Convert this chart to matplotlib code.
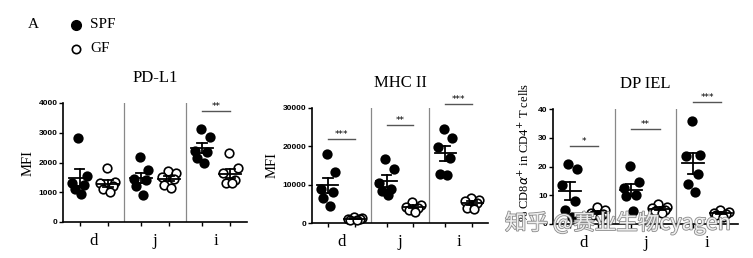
import matplotlib
matplotlib.use("Agg")
import matplotlib.pyplot as plt
import matplotlib.patheffects as pe
from matplotlib.lines import Line2D
import numpy as np

# --- Daten ---------------------------------------------------------------
GROUPS = ["d", "j", "i"]

PDL1_SPF = [[2820, 1550, 1300, 1250, 1100, 950],
            [2170, 1750, 1450, 1400, 1200, 900],
            [3120, 2850, 2400, 2350, 2150, 2000]]
PDL1_GF = [[1800, 1350, 1300, 1200, 1100, 1000],
           [1700, 1650, 1500, 1450, 1250, 1150],
           [2320, 1800, 1650, 1400, 1300, 1300]]
PDL1_SIG = [None, None, "**"]
PDL1_SIG_Y = [None, None, 3720]

MHC_SPF = [[17900, 13300, 9000, 8000, 6500, 4400],
           [16600, 14100, 10500, 9000, 8300, 7200],
           [24600, 22300, 19800, 17000, 12800, 12600]]
MHC_GF = [[1500, 1300, 1100, 1000, 900, 700],
          [5600, 4800, 4300, 4000, 3500, 3000],
          [6500, 6100, 5800, 5200, 3900, 3600]]
MHC_SIG = ["***", "**", "***"]
MHC_SIG_Y = [21900, 25480, 31100]

DP_SPF = [[21, 19.3, 13.5, 8, 5, 2.5],
          [20.2, 14.5, 12.5, 10, 9.8, 4.5],
          [36, 24, 23.5, 17.5, 14, 11.3]]
DP_GF = [[6, 5, 4, 3.5, 3, 2.5],
         [7, 6, 5.5, 5, 4.5, 4],
         [5, 4.3, 4, 3.5, 3, 2.5]]
DP_SIG = ["*", "**", "***"]
DP_SIG_Y = [27, 33, 42.3]

# --- Layout ---------------------------------------------------------------
W, H = 753, 258
JITTER = [-0.02, 0.12, -0.12, 0.08, -0.08, 0.03]
SERIF = "Liberation Serif"
SANS = "Liberation Sans"


def px_axes(fig, left, top, right, bottom):
    return fig.add_axes([left / W, 1 - bottom / H, (right - left) / W, (bottom - top) / H])


def panel(ax, spf, gf, sig, sig_y, ymax, yticks, title, ylabel):
    for g in range(3):
        for vals, off, filled in ((spf[g], 0.27, True), (gf[g], 0.73, False)):
            x = g + off + np.array(JITTER[:len(vals)])
            ax.plot(x, vals, "o", ms=6.2, mec="black", mew=1.2,
                    mfc="black" if filled else "white", ls="none", zorder=3, clip_on=False)
            m = np.mean(vals)
            sem = np.std(vals, ddof=1) / np.sqrt(len(vals))
            c = g + off
            ax.plot([c - 0.18, c + 0.18], [m, m], color="black", lw=1.3, zorder=4)
            ax.plot([c, c], [m - sem, m + sem], color="black", lw=1.3, zorder=4)
            for yy in (m - sem, m + sem):
                ax.plot([c - 0.08, c + 0.08], [yy, yy], color="black", lw=1.3, zorder=4)
        if sig[g]:
            ax.plot([g + 0.27, g + 0.73], [sig_y[g], sig_y[g]], color="#555555",
                    lw=1.0, clip_on=False)
            ax.text(g + 0.5, sig_y[g], sig[g], ha="center", va="bottom",
                    fontsize=6.5, clip_on=False)
    for b in (1, 2):
        ax.axvline(b, color="#888888", lw=0.9)
    ax.set_xlim(0, 3)
    ax.set_ylim(0, ymax)
    ax.set_yticks(yticks)
    ax.set_yticklabels([str(t) for t in yticks], fontsize=6, fontweight="bold",
                       family=SANS)
    ax.set_xticks([g + o for g in range(3) for o in (0.27, 0.73)])
    ax.set_xticklabels([])
    ax.set_xticks([g + 0.5 for g in range(3)], minor=True)
    ax.set_xticklabels(GROUPS, minor=True, fontsize=12, family=SERIF)
    ax.tick_params(axis="x", which="minor", length=0, pad=8)
    ax.tick_params(axis="x", which="major", length=3, width=1)
    ax.tick_params(axis="y", length=3, width=1, pad=1)
    for s in ("top", "right"):
        ax.spines[s].set_visible(False)
    for s in ("left", "bottom"):
        ax.spines[s].set_linewidth(1.2)
    ax.set_title(title, fontsize=12, family=SERIF, pad=15)
    ax.set_ylabel(ylabel, fontsize=10.5, family=SERIF, labelpad=3)


fig = plt.figure(figsize=(W / 100, H / 100), dpi=100)

ax1 = px_axes(fig, 63, 103, 247, 222)
panel(ax1, PDL1_SPF, PDL1_GF, PDL1_SIG, PDL1_SIG_Y, 4000,
      [0, 1000, 2000, 3000, 4000], "PD-L1", "MFI")

ax2 = px_axes(fig, 312, 108, 488, 223)
panel(ax2, MHC_SPF, MHC_GF, MHC_SIG, MHC_SIG_Y, 30000,
      [0, 10000, 20000, 30000], "MHC II", "MFI")

ax3 = px_axes(fig, 553, 109, 738, 224)
panel(ax3, DP_SPF, DP_GF, DP_SIG, DP_SIG_Y, 40,
      [0, 10, 20, 30, 40], "DP IEL", r"% CD8$\alpha^{+}$ in CD4$^{+}$ T cells")
ax3.yaxis.label.set_fontsize(9)
ax3.yaxis.set_label_coords(-0.11, 0.62)

# Legende + Panelbuchstabe
fig.text(28 / W, 1 - 25 / H, "A", fontsize=11, family=SERIF, va="center")
fig.add_artist(Line2D([76 / W], [1 - 25 / H], marker="o", ms=7, color="black",
                      transform=fig.transFigure))
fig.add_artist(Line2D([76 / W], [1 - 49 / H], marker="o", ms=6, mfc="white",
                      mec="black", mew=1.2, transform=fig.transFigure))
fig.text(90 / W, 1 - 25 / H, "SPF", fontsize=11, family=SERIF, va="center")
fig.text(90 / W, 1 - 49 / H, "GF", fontsize=11, family=SERIF, va="center")

# Wasserzeichen
wm = fig.text(505 / W, 1 - 223 / H, "知乎 @赛业生物cyagen", fontsize=15.5,
              family=["Noto Sans CJK SC", "DejaVu Sans"], va="center",
              color="white", alpha=0.85, zorder=10)
wm.set_path_effects([pe.withStroke(linewidth=1.2, foreground="#777777")])

fig.savefig("out.png", dpi=100)
